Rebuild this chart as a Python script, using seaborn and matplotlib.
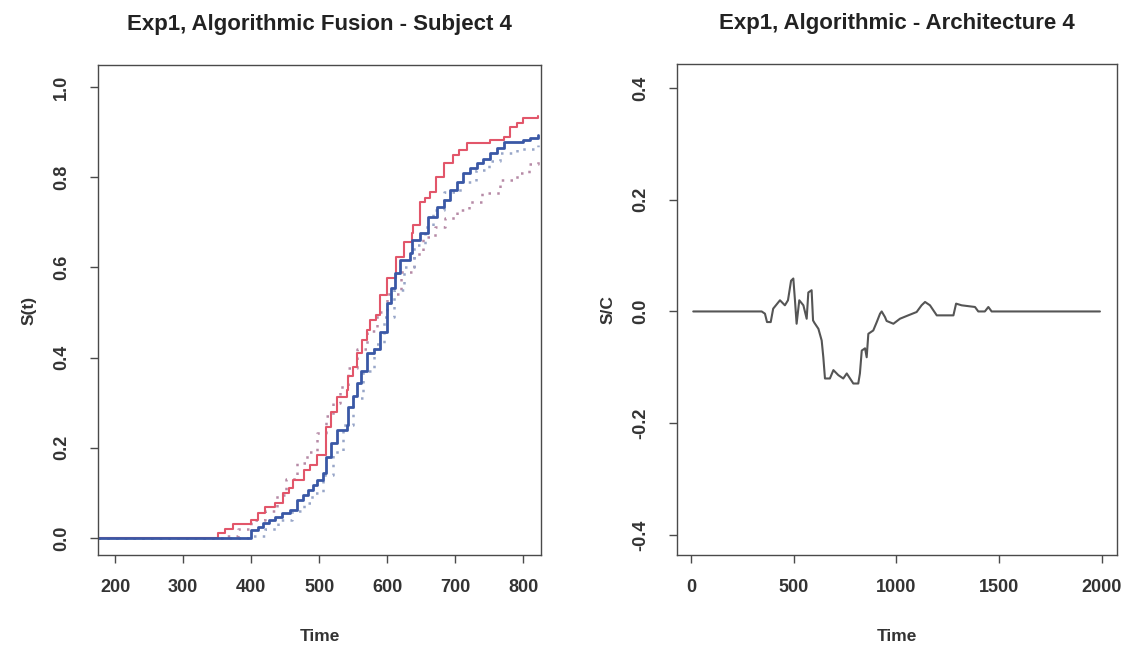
import matplotlib
matplotlib.use("Agg")
import matplotlib.pyplot as plt
import seaborn as sns
import pandas as pd

# ---------------- data ----------------
# Left panel: survivor/cdf step curves
t_red = [175, 352, 362, 374, 400, 410, 421, 435, 447, 455, 462, 477, 487, 497, 510, 518, 526, 541, 543,
         550, 555, 563, 570, 575, 583, 590, 600, 613, 624, 636, 638, 648, 655, 663, 672, 683, 697, 706,
         717, 751, 771, 781, 790, 800, 822]
v_red = [0, 0.01, 0.02, 0.031, 0.04, 0.055, 0.069, 0.077, 0.099, 0.11, 0.129, 0.151, 0.162, 0.184, 0.247,
         0.28, 0.313, 0.328, 0.358, 0.38, 0.41, 0.44, 0.461, 0.483, 0.494, 0.539, 0.576, 0.624, 0.657,
         0.676, 0.694, 0.746, 0.755, 0.768, 0.80, 0.831, 0.849, 0.86, 0.876, 0.882, 0.89, 0.912, 0.92,
         0.931, 0.935]

t_blue = [175, 400, 410, 418, 427, 435, 446, 457, 467, 476, 484, 491, 497, 506, 510, 518, 526, 541, 543,
          549, 555, 562, 570, 580, 590, 600, 606, 612, 619, 634, 636, 648, 660, 673, 683, 693, 702, 712,
          722, 732, 741, 751, 761, 771, 800, 810, 822]
v_blue = [0, 0.018, 0.025, 0.033, 0.04, 0.047, 0.055, 0.062, 0.084, 0.095, 0.106, 0.118, 0.129, 0.143,
          0.18, 0.21, 0.239, 0.25, 0.291, 0.315, 0.343, 0.37, 0.41, 0.42, 0.457, 0.521, 0.555, 0.587,
          0.616, 0.631, 0.661, 0.676, 0.712, 0.735, 0.75, 0.772, 0.79, 0.809, 0.82, 0.831, 0.84, 0.853,
          0.865, 0.879, 0.882, 0.888, 0.894]

t_dot_a = [175, 360, 380, 400, 420, 438, 452, 467, 482, 497, 510, 520, 530, 543, 555, 570, 585, 600, 620,
           640, 653, 670, 685, 702, 720, 740, 766, 790, 808, 822]
v_dot_a = [0, 0.005, 0.02, 0.04, 0.06, 0.095, 0.13, 0.166, 0.19, 0.232, 0.27, 0.30, 0.335, 0.376, 0.42,
           0.46, 0.50, 0.54, 0.59, 0.63, 0.668, 0.69, 0.71, 0.727, 0.745, 0.765, 0.794, 0.81, 0.83, 0.842]

t_dot_b = [175, 395, 420, 440, 460, 477, 490, 505, 520, 535, 550, 565, 580, 595, 610, 625, 640, 655, 668,
           683, 707, 730, 750, 766, 790, 822]
v_dot_b = [0, 0.005, 0.02, 0.04, 0.06, 0.077, 0.10, 0.14, 0.19, 0.25, 0.31, 0.37, 0.43, 0.49, 0.55, 0.60,
           0.65, 0.69, 0.727, 0.768, 0.79, 0.815, 0.835, 0.853, 0.862, 0.871]

# Right panel: S/C curve
t_sc = [11, 344, 360, 370, 388, 400, 433, 457, 472, 487, 498, 506, 514, 527, 547, 563, 571, 587, 594, 600,
        620, 636, 644, 652, 676, 693, 717, 741, 758, 774, 790, 814, 822, 831, 847, 855, 863, 887, 904,
        920, 928, 944, 952, 985, 1017, 1057, 1098, 1122, 1139, 1163, 1196, 1277, 1290, 1317, 1382, 1398,
        1430, 1447, 1463, 1990]
v_sc = [0, 0, -0.004, -0.019, -0.019, 0.005, 0.02, 0.011, 0.02, 0.055, 0.059, 0.02, -0.022, 0.02, 0.011,
        -0.013, 0.034, 0.038, -0.016, -0.02, -0.031, -0.052, -0.082, -0.12, -0.12, -0.105, -0.114, -0.12,
        -0.111, -0.12, -0.129, -0.129, -0.111, -0.07, -0.066, -0.082, -0.04, -0.034, -0.019, -0.004, 0.0,
        -0.01, -0.017, -0.022, -0.013, -0.007, -0.001, 0.011, 0.017, 0.011, -0.007, -0.007, 0.014, 0.011,
        0.008, 0.0, 0.0, 0.008, 0.0, 0.0]

left_xticks = [200, 300, 400, 500, 600, 700, 800]
left_yticks = [0.0, 0.2, 0.4, 0.6, 0.8, 1.0]
right_xticks = [0, 500, 1000, 1500, 2000]
right_yticks = [-0.4, -0.2, 0.0, 0.2, 0.4]

title_left = "Exp1, Algorithmic Fusion - Subject 4"
title_right = "Exp1, Algorithmic - Architecture 4"

# ---------------- style ----------------
sns.set_theme(style="white")
plt.rcParams['font.family'] = ['Liberation Sans', 'DejaVu Sans']
plt.rcParams['font.weight'] = 'bold'

FRAME = '#4a4a4a'
TXT = '#333333'

fig = plt.figure(figsize=(11.31, 6.52), dpi=100)
ax1 = fig.add_axes([98 / 1131, 97 / 652, 443 / 1131, 490 / 652])
ax2 = fig.add_axes([677 / 1131, 97 / 652, 440 / 1131, 491 / 652])


def df(t, v):
    return pd.DataFrame({"t": t, "v": v})


# left panel
sns.lineplot(data=df(t_dot_a, v_dot_a), x="t", y="v", ax=ax1, color='#b68aa6',
             linewidth=1.8, linestyle=(0, (1, 2.5)), drawstyle='steps-post', estimator=None)
sns.lineplot(data=df(t_dot_b, v_dot_b), x="t", y="v", ax=ax1, color='#98a6c8',
             linewidth=1.8, linestyle=(0, (1, 2.5)), drawstyle='steps-post', estimator=None)
sns.lineplot(data=df(t_red, v_red), x="t", y="v", ax=ax1, color='#e2566a',
             linewidth=1.5, drawstyle='steps-post', estimator=None)
sns.lineplot(data=df(t_blue, v_blue), x="t", y="v", ax=ax1, color='#3a58a6',
             linewidth=2.0, drawstyle='steps-post', estimator=None)

ax1.set_xlim(175, 826)
ax1.set_ylim(-0.038, 1.049)
ax1.set_xticks(left_xticks)
ax1.set_yticks(left_yticks)
ax1.set_yticklabels([f"{v:.1f}" for v in left_yticks], rotation=90, va='center')
ax1.set_xlabel("Time", fontsize=12.5, color=TXT, labelpad=24, fontweight='bold')
ax1.set_ylabel("S(t)", fontsize=12.5, color=TXT, labelpad=12, fontweight='bold')
ax1.set_title(title_left, fontsize=16, fontweight='bold', color='#222222', pad=25)

# right panel
sns.lineplot(data=df(t_sc, v_sc), x="t", y="v", ax=ax2, color='#555555',
             linewidth=1.5, estimator=None)
ax2.set_xlim(-68, 2073)
ax2.set_ylim(-0.436, 0.443)
ax2.set_xticks(right_xticks)
ax2.set_yticks(right_yticks)
ax2.set_yticklabels([f"{v:.1f}" for v in right_yticks], rotation=90, va='center')
ax2.set_xlabel("Time", fontsize=12.5, color=TXT, labelpad=24, fontweight='bold')
ax2.set_ylabel("S/C", fontsize=12.5, color=TXT, labelpad=12, fontweight='bold')
ax2.set_title(title_right, fontsize=16, fontweight='bold', color='#222222', pad=25)

for ax in (ax1, ax2):
    for sp in ax.spines.values():
        sp.set_visible(True)
        sp.set_color(FRAME)
        sp.set_linewidth(1.0)
    ax.tick_params(axis='both', which='both', direction='out', length=6, width=1.0,
                   color=FRAME, labelsize=13, labelcolor=TXT, bottom=True, left=True)
    ax.tick_params(axis='x', pad=11)
    ax.tick_params(axis='y', pad=14)
    for lab in ax.get_xticklabels() + ax.get_yticklabels():
        lab.set_fontweight('bold')
    ax.grid(False)

fig.savefig("out.png", dpi=100, facecolor='white')
